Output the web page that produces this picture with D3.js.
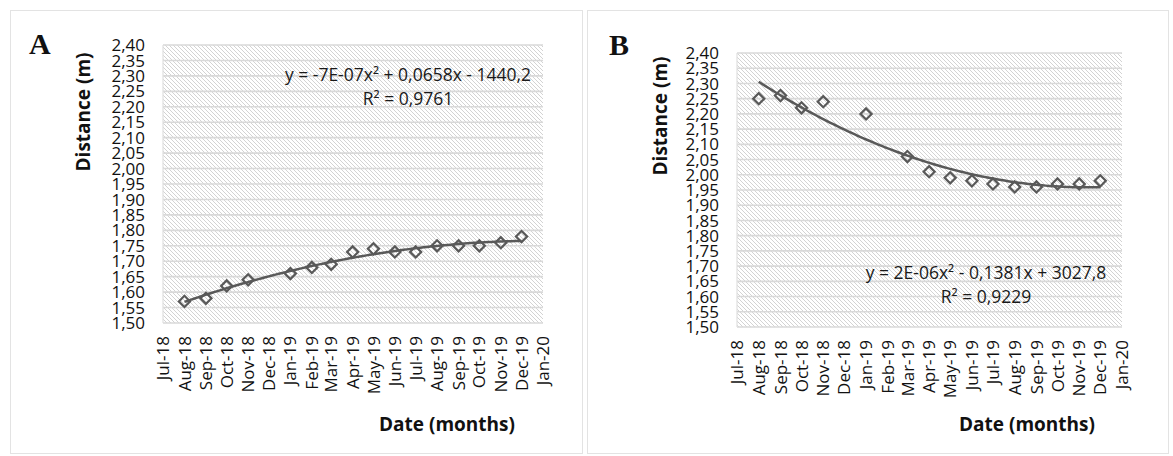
<!DOCTYPE html>
<html>
<head>
<meta charset="utf-8">
<script src="https://cdn.jsdelivr.net/npm/d3@7"></script>
<style>
  body { margin: 0; background: #fff; }
  svg text { font-family: "Open Sans", sans-serif; }
</style>
</head>
<body>
<div id="container"></div>
<script>
// data
var monthsA = ["2018-08","2018-09","2018-10","2018-11","2019-01","2019-02","2019-03","2019-04",
  "2019-05","2019-06","2019-07","2019-08","2019-09","2019-10","2019-11","2019-12"];
var distA = [1.57,1.58,1.62,1.64,1.66,1.68,1.69,1.73,1.74,1.73,1.73,1.75,1.75,1.75,1.76,1.78];

var monthsB = ["2018-08","2018-09","2018-10","2018-11","2019-01","2019-03","2019-04","2019-05",
  "2019-06","2019-07","2019-08","2019-09","2019-10","2019-11","2019-12"];
var distB = [2.25,2.26,2.22,2.24,2.20,2.06,2.01,1.99,1.98,1.97,1.96,1.96,1.97,1.97,1.98];

var yTicks = d3.range(0, 19).map(function(i) { return 1.50 + i * 0.05; });
var eqA = ["y = -7E-07x\u00b2 + 0,0658x - 1440,2", "R\u00b2 = 0,9761"];
var eqB = ["y = 2E-06x\u00b2 - 0,1381x + 3027,8", "R\u00b2 = 0,9229"];

var parseMonth = d3.timeParse("%Y-%m");
var fmtTick = d3.timeFormat("%b-%y");
var comma = function(v) { return v.toFixed(2).replace(".", ","); };

var W = 1173, H = 456;
var svg = d3.select("#container").append("svg")
  .attr("width", W).attr("height", H);

// hatch fill of the plot areas
svg.append("defs").append("pattern")
  .attr("id", "hatch")
  .attr("patternUnits", "userSpaceOnUse")
  .attr("width", 4).attr("height", 4)
  .call(function(p) {
    p.append("rect").attr("width", 4).attr("height", 4).attr("fill", "#fff");
    p.append("path").attr("d", "M-1,-1L5,5M-1,3L1,5M3,-1L5,1")
      .attr("stroke", "#d3d3d3").attr("stroke-width", 1);
  });

// quadratic least squares, x in days (centred)
function quadFit(xs, ys) {
  var m = d3.mean(xs);
  var s = [0,0,0,0,0], t = [0,0,0];
  xs.forEach(function(x, i) {
    var u = x - m, p = 1;
    for (var k = 0; k < 5; k++) { s[k] += p; if (k < 3) t[k] += p * ys[i]; p *= u; }
  });
  var A = [[s[0],s[1],s[2],t[0]],[s[1],s[2],s[3],t[1]],[s[2],s[3],s[4],t[2]]];
  for (var i = 0; i < 3; i++) {
    for (var j = i + 1; j < 3; j++) {
      var f = A[j][i] / A[i][i];
      for (var k = i; k < 4; k++) A[j][k] -= f * A[i][k];
    }
  }
  var c = [0,0,0];
  for (var i = 2; i >= 0; i--) {
    var v = A[i][3];
    for (var k = i + 1; k < 3; k++) v -= A[i][k] * c[k];
    c[i] = v / A[i][i];
  }
  return function(x) { var u = x - m; return c[0] + c[1] * u + c[2] * u * u; };
}

function drawPanel(o) {
  var g = svg.append("g");

  // panel frame
  g.append("rect")
    .attr("x", o.box[0] + 0.5).attr("y", o.box[1] + 0.5)
    .attr("width", o.box[2]).attr("height", o.box[3])
    .attr("fill", "#fff").attr("stroke", "#e3e3e3");

  var x = d3.scaleTime()
    .domain([new Date(2018, 6, 1), new Date(2020, 0, 1)])
    .range([o.left, o.right]);
  var y = d3.scaleLinear().domain([1.50, 2.40]).range([o.bottom, o.top]);

  g.append("rect")
    .attr("x", o.left).attr("y", o.top)
    .attr("width", o.right - o.left).attr("height", o.bottom - o.top)
    .attr("fill", "url(#hatch)");

  g.selectAll("line.grid")
    .data(yTicks)
    .enter()
    .append("line")
    .attr("class", "grid")
    .attr("x1", o.left).attr("x2", o.right)
    .attr("y1", function(d) { return y(d); })
    .attr("y2", function(d) { return y(d); })
    .attr("stroke", "#d9d9d9").attr("stroke-width", 1.6);

  g.append("line")
    .attr("x1", o.left).attr("x2", o.left)
    .attr("y1", o.top).attr("y2", o.bottom)
    .attr("stroke", "#e0e0e0").attr("stroke-width", 1.2);

  // y tick labels
  g.selectAll("text.ytick")
    .data(yTicks)
    .enter()
    .append("text")
    .attr("class", "ytick")
    .text(comma)
    .attr("x", o.left - 18)
    .attr("y", function(d) { return y(d); })
    .attr("dy", "0.36em")
    .attr("text-anchor", "end")
    .attr("font-size", "17px")
    .attr("fill", "#111");

  // x tick labels, rotated
  var months = d3.timeMonth.range(new Date(2018, 6, 1), new Date(2020, 0, 2));
  g.selectAll("text.xtick")
    .data(months)
    .enter()
    .append("text")
    .attr("class", "xtick")
    .text(fmtTick)
    .attr("transform", function(d) {
      return "translate(" + x(d) + "," + (o.bottom + 13) + ") rotate(-90)";
    })
    .attr("dy", "0.36em")
    .attr("text-anchor", "end")
    .attr("font-size", "17px")
    .attr("fill", "#111");

  // axis titles and panel letter
  g.append("text")
    .text("Distance (m)")
    .attr("transform", "translate(" + o.ytitle[0] + "," + o.ytitle[1] + ") rotate(-90)")
    .attr("dy", "0.36em")
    .attr("text-anchor", "middle")
    .attr("font-weight", "bold")
    .attr("font-size", "19px")
    .attr("fill", "#111");

  g.append("text")
    .text("Date (months)")
    .attr("x", o.xtitle[0]).attr("y", o.xtitle[1])
    .attr("text-anchor", "middle")
    .attr("font-weight", "bold")
    .attr("font-size", "19px")
    .attr("fill", "#111");

  g.append("text")
    .text(o.letter)
    .attr("x", o.letterPos[0]).attr("y", o.letterPos[1])
    .style("font-family", "'Liberation Serif', serif")
    .attr("font-weight", "bold")
    .attr("font-size", "30px")
    .attr("fill", "#111");

  // markers
  var dates = o.months.map(parseMonth);
  var diamond = d3.symbol().type(d3.symbolSquare).size(62);
  g.selectAll("path.pt")
    .data(o.values)
    .enter()
    .append("path")
    .attr("class", "pt")
    .attr("d", diamond)
    .attr("transform", function(d, i) {
      return "translate(" + x(dates[i]) + "," + y(d) + ") rotate(45)";
    })
    .attr("fill", "none")
    .attr("stroke", "#595959")
    .attr("stroke-width", 2.2);

  // polynomial trendline (order 2)
  var days = dates.map(function(d) { return d.getTime() / 864e5; });
  var fit = quadFit(days, o.values);
  var span = d3.range(0, 101).map(function(k) {
    return days[0] + (days[days.length - 1] - days[0]) * k / 100;
  });
  g.append("path")
    .datum(span)
    .attr("d", d3.line()
      .x(function(d) { return x(new Date(d * 864e5)); })
      .y(function(d) { return y(fit(d)); }))
    .attr("fill", "none")
    .attr("stroke", "#595959")
    .attr("stroke-width", 2.5);

  // trendline label
  g.selectAll("text.eq")
    .data(o.eq)
    .enter()
    .append("text")
    .attr("class", "eq")
    .text(function(d) { return d; })
    .attr("x", o.eqPos[0])
    .attr("y", function(d, i) { return o.eqPos[1] + i * 24; })
    .attr("dy", "0.36em")
    .attr("text-anchor", "middle")
    .attr("font-size", "17.5px")
    .attr("fill", "#1a1a1a");
}

drawPanel({
  box: [10, 10, 572, 443], left: 163, right: 543, top: 45, bottom: 323,
  months: monthsA, values: distA, eq: eqA, eqPos: [408, 75],
  letter: "A", letterPos: [29, 54], ytitle: [83, 112], xtitle: [447, 431]
});
drawPanel({
  box: [587, 10, 581, 443], left: 737, right: 1122, top: 53, bottom: 327,
  months: monthsB, values: distB, eq: eqB, eqPos: [986, 273],
  letter: "B", letterPos: [609, 55], ytitle: [660, 116], xtitle: [1027, 431]
});
</script>
</body>
</html>
